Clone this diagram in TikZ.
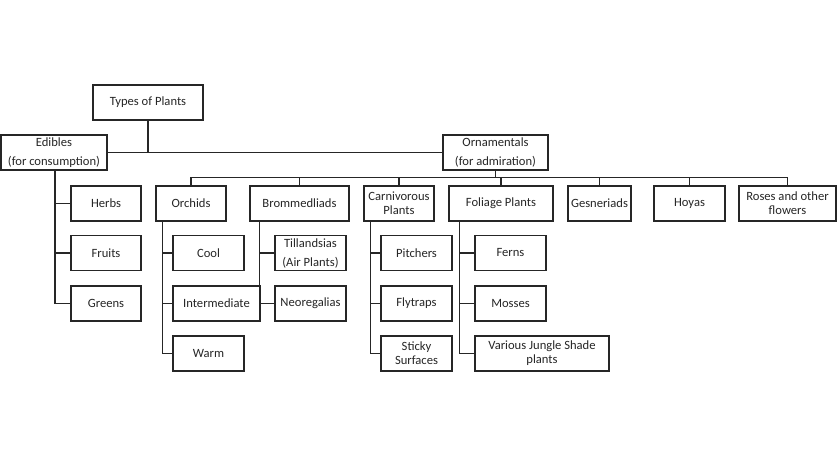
\documentclass[tikz,border=0pt]{standalone}
\usepackage{fontspec}
\setmainfont{Carlito}
\begin{document}
\begin{tikzpicture}[x=1pt,y=-1pt,
  box/.style={draw=black!85,line width=1.2pt,rectangle,inner sep=0pt,
    minimum height=35pt,align=center,font=\fontsize{12.6}{14}\selectfont,text=black!85},
  conn/.style={draw=black!85,line width=1.1pt}]
\useasboundingbox[fill=white] (0,0) rectangle (840,457);
% top level
\node[box,minimum width=110pt] (types) at (148,102.5) {Types of Plants};
\node[box,minimum width=106pt] (edibles) at (54,152.5) {Edibles\\[5pt](for consumption)};
\node[box,minimum width=105pt] (orn) at (495.5,152.5) {Ornamentals\\[5pt](for admiration)};
% edibles children
\node[box,minimum width=70pt] (herbs) at (106,203.5) {Herbs};
\node[box,minimum width=70pt] (fruits) at (106,253) {Fruits};
\node[box,minimum width=70pt] (greens) at (106,303.5) {Greens};
% ornamentals children
\node[box,minimum width=70pt] (orchids) at (191,203.5) {Orchids};
\node[box,minimum width=99pt] (brom) at (299.5,203.5) {Brommedliads};
\node[box,minimum width=70pt] (carn) at (399,203.5) {Carnivorous\\Plants};
\node[box,minimum width=104pt] (fol) at (501,203.5) {Foliage Plants};
\node[box,minimum width=63pt] (gesn) at (599.5,203.5) {Gesneriads};
\node[box,minimum width=71pt] (hoyas) at (689.5,203.5) {Hoyas};
\node[box,minimum width=97pt] (roses) at (787.5,203.5) {Roses and other\\flowers};
% orchids children
\node[box,minimum width=71pt] (cool) at (208.5,253) {Cool};
\node[box,minimum width=87pt] (inter) at (216.5,303.5) {Intermediate};
\node[box,minimum width=71pt] (warm) at (208.5,353.5) {Warm};
% brom children
\node[box,minimum width=71pt] (till) at (310.5,253) {Tillandsias\\[5pt](Air Plants)};
\node[box,minimum width=71pt] (neo) at (310.5,303.5) {Neoregalias};
% carnivorous children
\node[box,minimum width=71pt] (pitch) at (416.5,253) {Pitchers};
\node[box,minimum width=71pt] (fly) at (416.5,303.5) {Flytraps};
\node[box,minimum width=71pt] (sticky) at (416.5,353.5) {Sticky\\Surfaces};
% foliage children
\node[box,minimum width=71pt] (ferns) at (510.5,253) {Ferns};
\node[box,minimum width=71pt] (mosses) at (510.5,303.5) {Mosses};
\node[box,minimum width=134pt] (various) at (542,353.5) {Various Jungle Shade\\plants};
% top connectors
\draw[conn] (edibles.east) -- (orn.west);
\draw[conn] (types.south) -- (types.south |- edibles.east);
\coordinate (bus) at (0,177.5);
\draw[conn] (orn.south) -- (orn.south |- bus);
\draw[conn] (orchids.north) -- (orchids.north |- bus) -- (roses.north |- bus) -- (roses.north);
\foreach \n in {brom,carn,fol,gesn,hoyas}
  \draw[conn] (\n.north) -- (\n.north |- bus);
% edibles branch
\coordinate (et) at ([xshift=1pt]edibles.south);
\draw[conn] (et) |- (greens.west);
\draw[conn] (et |- herbs.west) -- (herbs.west);
\draw[conn] (et |- fruits.west) -- (fruits.west);
% orchids branch
\coordinate (ot) at ([xshift=7pt]orchids.south west);
\draw[conn] (ot) |- (warm.west);
\draw[conn] (ot |- cool.west) -- (cool.west);
\draw[conn] (ot |- inter.west) -- (inter.west);
% brom branch
\coordinate (bt) at ([xshift=10pt]brom.south west);
\draw[conn] (bt) |- (neo.west);
\draw[conn] (bt |- till.west) -- (till.west);
% carnivorous branch
\coordinate (ct) at ([xshift=7pt]carn.south west);
\draw[conn] (ct) |- (sticky.west);
\draw[conn] (ct |- pitch.west) -- (pitch.west);
\draw[conn] (ct |- fly.west) -- (fly.west);
% foliage branch
\coordinate (ft) at ([xshift=11pt]fol.south west);
\draw[conn] (ft) |- (various.west);
\draw[conn] (ft |- ferns.west) -- (ferns.west);
\draw[conn] (ft |- mosses.west) -- (mosses.west);
\end{tikzpicture}
\end{document}
